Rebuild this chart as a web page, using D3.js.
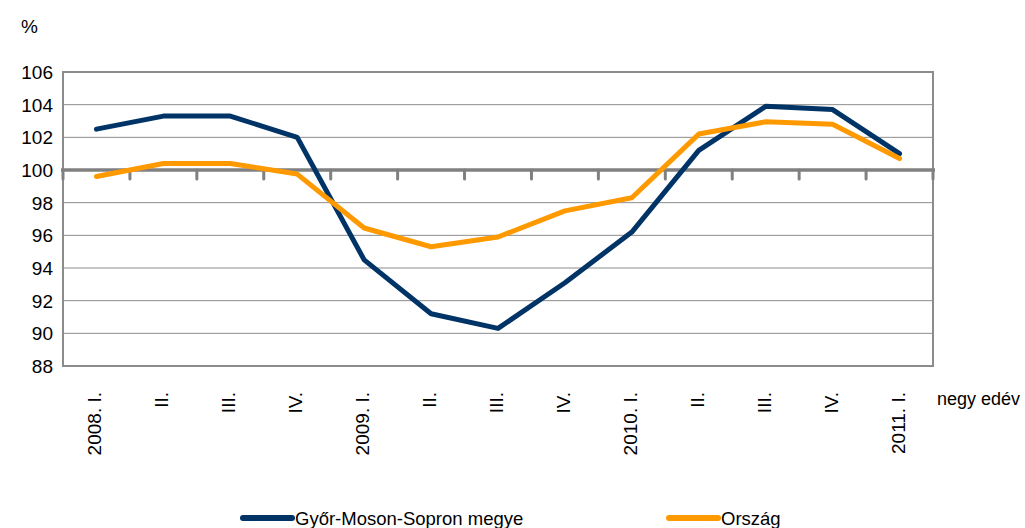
<!DOCTYPE html>
<html>
<head>
<meta charset="utf-8">
<script src="https://cdn.jsdelivr.net/npm/d3@7"></script>
<style>
  body { margin: 0; background: #fff; }
  text { font-family: "Liberation Sans", Arial, sans-serif; fill: #000; }
</style>
</head>
<body>
<div id="chart"></div>
<script>
// negyedévek
const negyedevek = ["2008. I.", "II.", "III.", "IV.", "2009. I.", "II.", "III.", "IV.",
                    "2010. I.", "II.", "III.", "IV.", "2011. I."];
const gyor = [102.5, 103.3, 103.3, 102.0, 94.5, 91.2, 90.3, 93.1, 96.2, 101.2, 103.9, 103.7, 101.0];
const orszag = [99.6, 100.4, 100.4, 99.75, 96.45, 95.3, 95.9, 97.5, 98.3, 102.2, 102.95, 102.8, 100.7];
const yTicks = [88, 90, 92, 94, 96, 98, 100, 102, 104, 106];

const sorozatok = [
  { nev: "Győr-Moson-Sopron megye", ertekek: gyor, szin: "#003366" },
  { nev: "Ország", ertekek: orszag, szin: "#ff9900" }
];

const W = 1025, H = 528;
const m = { left: 63, right: 92, top: 72, bottom: 162 };

const svg = d3.select("#chart").append("svg")
    .attr("width", W)
    .attr("height", H);

const x = d3.scaleBand()
    .domain(d3.range(negyedevek.length))
    .range([m.left, W - m.right]);

const y = d3.scaleLinear()
    .domain([88, 106])
    .range([H - m.bottom, m.top]);

// rácsvonalak
svg.append("g")
  .selectAll("line")
  .data(yTicks)
  .join("line")
    .attr("x1", m.left).attr("x2", W - m.right)
    .attr("y1", d => y(d)).attr("y2", d => y(d))
    .attr("stroke", "#8c8c8c")
    .attr("stroke-width", 1);

// keret
svg.append("rect")
    .attr("x", m.left).attr("y", m.top)
    .attr("width", W - m.right - m.left)
    .attr("height", H - m.bottom - m.top)
    .attr("fill", "none")
    .attr("stroke", "#8c8c8c")
    .attr("stroke-width", 2);

// y tengely feliratok
svg.append("g")
  .selectAll("text")
  .data(yTicks)
  .join("text")
    .attr("x", 53)
    .attr("y", d => y(d))
    .attr("dy", "0.36em")
    .attr("text-anchor", "end")
    .attr("font-size", 19)
    .text(d => d);

// vízszintes tengely 100-nál
const y100 = y(100);
svg.append("line")
    .attr("x1", m.left - 2).attr("x2", W - m.right + 2)
    .attr("y1", y100).attr("y2", y100)
    .attr("stroke", "#808080")
    .attr("stroke-width", 3.5);

const tickPos = d3.range(negyedevek.length + 1).map(i =>
  i < negyedevek.length ? x(i) : x(i - 1) + x.bandwidth());
svg.append("g")
  .selectAll("line")
  .data(tickPos)
  .join("line")
    .attr("x1", d => d).attr("x2", d => d)
    .attr("y1", y100).attr("y2", y100 + 9)
    .attr("stroke", "#808080")
    .attr("stroke-width", 3)
    .attr("stroke-linecap", "round");

// vonalak
const line = d3.line()
    .x((d, i) => x(i) + x.bandwidth() / 2)
    .y(d => y(d));

svg.append("g")
  .selectAll("path")
  .data(sorozatok)
  .join("path")
    .attr("d", d => line(d.ertekek))
    .attr("fill", "none")
    .attr("stroke", d => d.szin)
    .attr("stroke-width", 5)
    .attr("stroke-linejoin", "round")
    .attr("stroke-linecap", "round");

// x feliratok
svg.append("g")
  .selectAll("text")
  .data(negyedevek)
  .join("text")
    .attr("transform", (d, i) => `translate(${x(i) + x.bandwidth() / 2 + 5},392) rotate(-90)`)
    .attr("text-anchor", "end")
    .attr("font-size", 19)
    .text(d => d);

svg.append("text")
    .attr("x", 937).attr("y", 405)
    .attr("font-size", 18)
    .text("negy edév");

svg.append("text")
    .attr("x", 21).attr("y", 33)
    .attr("font-size", 19)
    .text("%");

// jelmagyarázat
const leg = svg.append("g")
  .selectAll("g")
  .data(sorozatok)
  .join("g")
    .attr("transform", (d, i) => `translate(${i === 0 ? 243 : 669},518)`);
leg.append("line")
    .attr("x1", 0).attr("x2", 49)
    .attr("stroke", d => d.szin)
    .attr("stroke-width", 6)
    .attr("stroke-linecap", "round");
leg.append("text")
    .attr("x", 52).attr("y", 7)
    .attr("font-size", 18.5)
    .text(d => d.nev);
</script>
</body>
</html>
